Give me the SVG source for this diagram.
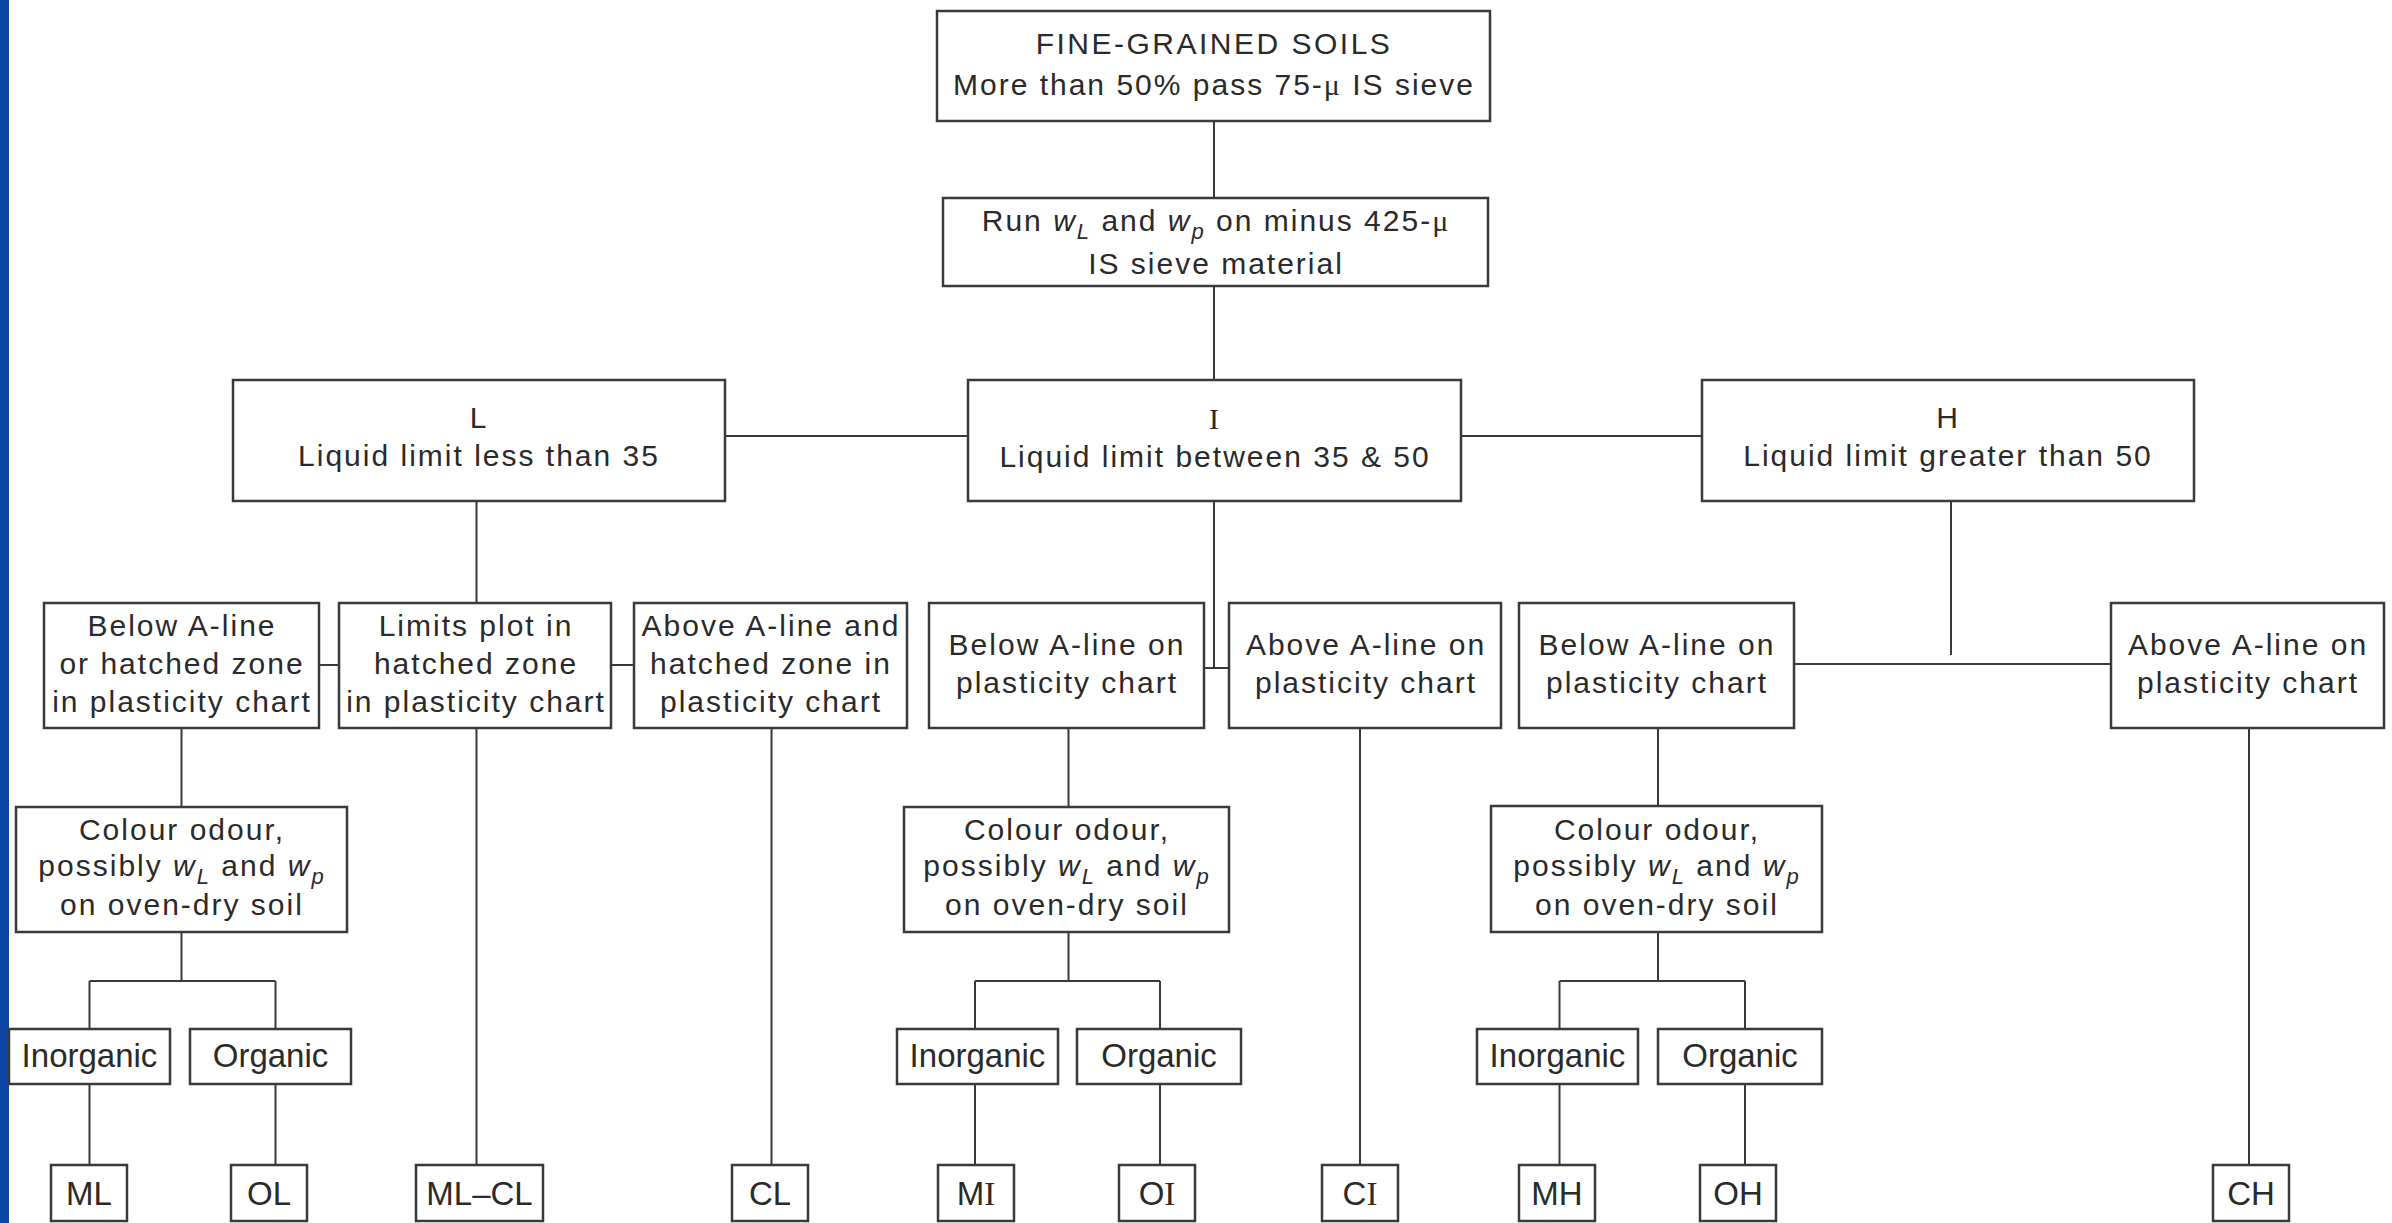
<svg xmlns="http://www.w3.org/2000/svg" width="2392" height="1223" viewBox="0 0 2392 1223">
<style>
.box{fill:#fff;stroke:#3a3a3a;stroke-width:2.5}
.ln{stroke:#3a3a3a;stroke-width:2;fill:none}
text{font-family:"Liberation Sans",Arial,sans-serif;fill:#2a2a2a;text-anchor:middle}
.t{font-size:30px;letter-spacing:2px}
.s{font-size:33px}
.sr{font-family:"Liberation Serif","Times New Roman",serif}
.it{font-style:italic}
.sub{font-size:22px;font-style:italic}
</style>
<rect x="0" y="0" width="2392" height="1223" fill="#ffffff"/>
<rect x="0" y="0" width="9" height="1223" fill="#0b45a6"/>

<g id="connectors" class="ln">
<path d="M1214 121V198M1214 286V380"/>
<path d="M725 436H968M1461 436H1702"/>
<path d="M476.5 501V603M1214 501V668M1204 668H1229M1951 501V655M1794 664H2111"/>
<path d="M319 665H339M611 665H634"/>
<path d="M181.5 728V807M181.5 932V981M89.5 981H275.5M89.5 981V1029M275.5 981V1029M89.5 1084V1165M275.5 1084V1165"/>
<path d="M476.5 728V1165M771.5 728V1165"/>
<path d="M1068.5 728V807M1068.5 932V981M975 981H1160M975 981V1029M1160 981V1029M975 1084V1165M1160 1084V1165"/>
<path d="M1360 728V1165"/>
<path d="M1658 728V806M1658 932V981M1559.5 981H1745M1559.5 981V1029M1745 981V1029M1559.5 1084V1165M1745 1084V1165"/>
<path d="M2249 728V1165"/>
</g>

<g id="n-fine">
<rect class="box" x="937" y="11" width="553" height="110"/>
<text class="t" x="1214" y="54" style="letter-spacing:2.5px">FINE-GRAINED SOILS</text>
<text class="t" x="1214" y="95">More than 50% pass 75-<tspan class="sr">μ</tspan> IS sieve</text>
</g>
<g id="n-run">
<rect class="box" x="943" y="198" width="545" height="88"/>
<text class="t" x="1216" y="231">Run <tspan class="it">w</tspan><tspan class="sub" dy="8">L</tspan><tspan dy="-8"> and </tspan><tspan class="it">w</tspan><tspan class="sub" dy="8">p</tspan><tspan dy="-8"> on minus 425-</tspan><tspan class="sr">μ</tspan></text>
<text class="t" x="1216" y="274">IS sieve material</text>
</g>
<g id="n-L">
<rect class="box" x="233" y="380" width="492" height="121"/>
<text class="t" x="479" y="428">L</text>
<text class="t" x="479" y="466">Liquid limit less than 35</text>
</g>
<g id="n-I">
<rect class="box" x="968" y="380" width="493" height="121"/>
<text class="t sr" x="1215" y="429">I</text>
<text class="t" x="1215" y="467">Liquid limit between 35 &amp; 50</text>
</g>
<g id="n-H">
<rect class="box" x="1702" y="380" width="492" height="121"/>
<text class="t" x="1948" y="428">H</text>
<text class="t" x="1948" y="466">Liquid limit greater than 50</text>
</g>

<g id="n-L-below">
<rect class="box" x="44" y="603" width="275" height="125"/>
<text class="t" x="182" y="636">Below A-line</text>
<text class="t" x="182" y="674">or hatched zone</text>
<text class="t" x="182" y="712">in plasticity chart</text>
</g>
<g id="n-L-hatched">
<rect class="box" x="339" y="603" width="272" height="125"/>
<text class="t" x="476" y="636">Limits plot in</text>
<text class="t" x="476" y="674">hatched zone</text>
<text class="t" x="476" y="712">in plasticity chart</text>
</g>
<g id="n-L-above">
<rect class="box" x="634" y="603" width="273" height="125"/>
<text class="t" x="771" y="636">Above A-line and</text>
<text class="t" x="771" y="674">hatched zone in</text>
<text class="t" x="771" y="712">plasticity chart</text>
</g>
<g id="n-I-below">
<rect class="box" x="929" y="603" width="275" height="125"/>
<text class="t" x="1067" y="655">Below A-line on</text>
<text class="t" x="1067" y="693">plasticity chart</text>
</g>
<g id="n-I-above">
<rect class="box" x="1229" y="603" width="272" height="125"/>
<text class="t" x="1366" y="655">Above A-line on</text>
<text class="t" x="1366" y="693">plasticity chart</text>
</g>
<g id="n-H-below">
<rect class="box" x="1519" y="603" width="275" height="125"/>
<text class="t" x="1657" y="655">Below A-line on</text>
<text class="t" x="1657" y="693">plasticity chart</text>
</g>
<g id="n-H-above">
<rect class="box" x="2111" y="603" width="273" height="125"/>
<text class="t" x="2248" y="655">Above A-line on</text>
<text class="t" x="2248" y="693">plasticity chart</text>
</g>

<g id="n-L-colour">
<rect class="box" x="16" y="807" width="331" height="125"/>
<text class="t" x="182" y="840">Colour odour,</text>
<text class="t" x="182" y="876">possibly <tspan class="it">w</tspan><tspan class="sub" dy="8">L</tspan><tspan dy="-8"> and </tspan><tspan class="it">w</tspan><tspan class="sub" dy="8">p</tspan></text>
<text class="t" x="182" y="915">on oven-dry soil</text>
</g>
<g id="n-I-colour">
<rect class="box" x="904" y="807" width="325" height="125"/>
<text class="t" x="1067" y="840">Colour odour,</text>
<text class="t" x="1067" y="876">possibly <tspan class="it">w</tspan><tspan class="sub" dy="8">L</tspan><tspan dy="-8"> and </tspan><tspan class="it">w</tspan><tspan class="sub" dy="8">p</tspan></text>
<text class="t" x="1067" y="915">on oven-dry soil</text>
</g>
<g id="n-H-colour">
<rect class="box" x="1491" y="806" width="331" height="126"/>
<text class="t" x="1657" y="840">Colour odour,</text>
<text class="t" x="1657" y="876">possibly <tspan class="it">w</tspan><tspan class="sub" dy="8">L</tspan><tspan dy="-8"> and </tspan><tspan class="it">w</tspan><tspan class="sub" dy="8">p</tspan></text>
<text class="t" x="1657" y="915">on oven-dry soil</text>
</g>

<g id="n-L-inorg"><rect class="box" x="9" y="1029" width="161" height="55"/><text class="s" x="89.5" y="1067">Inorganic</text></g>
<g id="n-L-org"><rect class="box" x="190" y="1029" width="161" height="55"/><text class="s" x="270.5" y="1067">Organic</text></g>
<g id="n-I-inorg"><rect class="box" x="897" y="1029" width="161" height="55"/><text class="s" x="977.5" y="1067">Inorganic</text></g>
<g id="n-I-org"><rect class="box" x="1077" y="1029" width="164" height="55"/><text class="s" x="1159" y="1067">Organic</text></g>
<g id="n-H-inorg"><rect class="box" x="1477" y="1029" width="161" height="55"/><text class="s" x="1557.5" y="1067">Inorganic</text></g>
<g id="n-H-org"><rect class="box" x="1658" y="1029" width="164" height="55"/><text class="s" x="1740" y="1067">Organic</text></g>

<g id="n-ML"><rect class="box" x="51" y="1165" width="76" height="56"/><text class="s" x="89" y="1205">ML</text></g>
<g id="n-OL"><rect class="box" x="231" y="1165" width="76" height="56"/><text class="s" x="269" y="1205">OL</text></g>
<g id="n-MLCL"><rect class="box" x="416" y="1165" width="127" height="56"/><text class="s" x="479.5" y="1205">ML–CL</text></g>
<g id="n-CL"><rect class="box" x="732" y="1165" width="76" height="56"/><text class="s" x="770" y="1205">CL</text></g>
<g id="n-MI"><rect class="box" x="938" y="1165" width="76" height="56"/><text class="s" x="976" y="1205">M<tspan class="sr">I</tspan></text></g>
<g id="n-OI"><rect class="box" x="1119" y="1165" width="76" height="56"/><text class="s" x="1157" y="1205">O<tspan class="sr">I</tspan></text></g>
<g id="n-CI"><rect class="box" x="1322" y="1165" width="76" height="56"/><text class="s" x="1360" y="1205">C<tspan class="sr">I</tspan></text></g>
<g id="n-MH"><rect class="box" x="1519" y="1165" width="76" height="56"/><text class="s" x="1557" y="1205">MH</text></g>
<g id="n-OH"><rect class="box" x="1700" y="1165" width="76" height="56"/><text class="s" x="1738" y="1205">OH</text></g>
<g id="n-CH"><rect class="box" x="2213" y="1165" width="76" height="56"/><text class="s" x="2251" y="1205">CH</text></g>
</svg>
